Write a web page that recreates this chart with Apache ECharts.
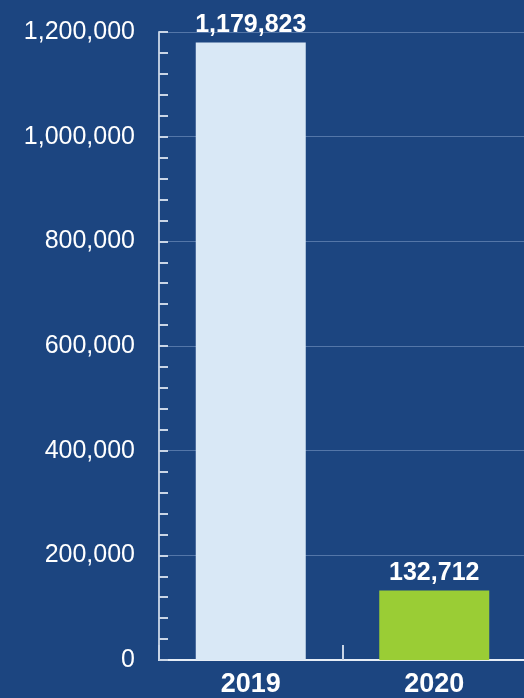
<!DOCTYPE html>
<html>
<head>
<meta charset="utf-8">
<script src="https://cdn.jsdelivr.net/npm/echarts@6/dist/echarts.min.js"></script>
<style>
  html, body { margin: 0; padding: 0; background: #1c4580; }
  #chart { width: 524px; height: 698px; }
</style>
</head>
<body>
<div id="chart"></div>
<script>
const years = ['2019', '2020']
const values = [1179823, 132712]
const barColors = ['#d9e8f6', '#9acd35']

const chart = echarts.init(document.getElementById('chart'))
chart.setOption({
  backgroundColor: '#1c4580',
  animation: false,
  textStyle: { fontFamily: 'Liberation Sans, Arial, sans-serif' },
  grid: { left: 159, right: -2, top: 32, bottom: 38, outerBoundsMode: 'none' },
  xAxis: {
    type: 'category',
    data: years,
    axisLine: { lineStyle: { color: '#e6edf6', width: 2 } },
    axisTick: { show: true, inside: true, length: 15, lineStyle: { color: '#c9d5e6', width: 2 } },
    axisLabel: { color: '#ffffff', fontSize: 27, fontWeight: 'bold', margin: 11 }
  },
  yAxis: {
    type: 'value',
    min: 0,
    max: 1200000,
    interval: 200000,
    axisLine: { show: true, lineStyle: { color: '#b9c8dd', width: 2 } },
    axisTick: { show: true, inside: true, length: 9, lineStyle: { color: '#c9d5e6', width: 2 } },
    minorTick: { show: true, splitNumber: 5, length: 9, lineStyle: { color: '#c9d5e6', width: 2 } },
    splitLine: { show: true, lineStyle: { color: '#5476a8', width: 1 } },
    axisLabel: {
      color: '#ffffff',
      fontSize: 25,
      margin: 24,
      formatter: v => v.toLocaleString('en-US')
    }
  },
  series: [{
    type: 'bar',
    barWidth: 110,
    data: values.map((v, i) => ({ value: v, itemStyle: { color: barColors[i] } })),
    label: {
      show: true,
      position: 'top',
      distance: 5,
      color: '#ffffff',
      fontSize: 25,
      fontWeight: 'bold',
      formatter: p => p.value.toLocaleString('en-US')
    }
  }]
})
</script>
</body>
</html>
